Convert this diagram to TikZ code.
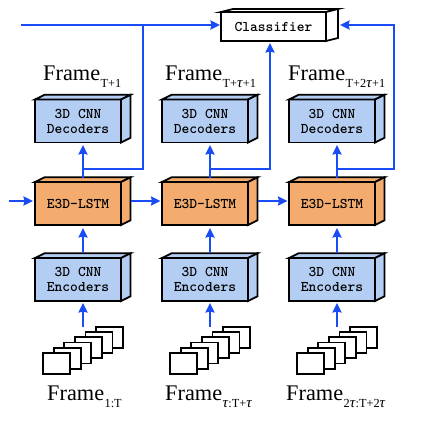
\documentclass[tikz,border=0pt]{standalone}
\usepackage{fontspec}
\setmainfont{Liberation Serif}
\usetikzlibrary{arrows.meta,calc}
\definecolor{flow}{HTML}{1A4CF5}
\definecolor{cnnblue}{HTML}{B4CEF3}
\definecolor{lstmorange}{HTML}{F3AC6E}
\tikzset{
  face/.style={draw=black,line width=1.8pt,line join=miter},
  boxnode/.style={face,inner sep=0pt,outer sep=0pt,minimum width=86pt,minimum height=43pt,align=center,
    font=\fontsize{14.8}{15}\selectfont\ttfamily\bfseries},
  cnn/.style={boxnode,fill=cnnblue},
  lstm/.style={boxnode,fill=lstmorange},
  clsbox/.style={boxnode,fill=white,minimum width=105pt,minimum height=29pt},
  frm/.style={face,fill=white,inner sep=0pt,outer sep=0pt,minimum width=27pt,minimum height=21pt},
  flowline/.style={draw=flow,line width=2pt},
  flowarrow/.style={flowline,-{Stealth[length=9.5pt,width=9pt,inset=1pt]}},
  lbl/.style={anchor=base west,inner sep=0pt,font=\fontsize{22.3}{24}\selectfont},
}
\newcommand{\sbs}[1]{\raisebox{-7pt}{\kern0.5pt\fontsize{12.3}{12}\selectfont #1}}
\newcommand{\tauit}{{\fontsize{15}{12}\selectfont\textit{τ}}}
% depth faces behind a named front node: #1 name, #2 colour
\newcommand{\depthfaces}[2]{%
  \draw[face,fill=#2] (#1.north west) -- ++(9.5,-4.7) -- ($(#1.north east)+(9.5,-4.7)$) -- (#1.north east) -- cycle;
  \draw[face,fill=#2] (#1.north east) -- ++(9.5,-4.7) -- ($(#1.south east)+(9.5,-4.7)$) -- (#1.south east) -- cycle;
}
\newcommand{\framestack}[2]{% #1 prefix, #2 x of first frame centre
  \foreach \i/\dx/\dy in {6/53/26.2,5/42.4/21,4/31.8/15.7,3/21.2/10.5,2/10.6/5.2,1/0/0}{
    \node[frm] (#1\i) at ($(#2,363.5)+(\dx,-\dy)$) {};
  }
}
\begin{document}
\begin{tikzpicture}[x=1pt,y=1pt]
\useasboundingbox (0,0) rectangle (436,424);
\begin{scope}[shift={(0,424)},y=-1pt]
% columns
\node[cnn] (d1) at (78,121) {3D CNN\\Decoders};  \depthfaces{d1}{cnnblue}
\node[cnn] (d2) at (205,121) {3D CNN\\Decoders}; \depthfaces{d2}{cnnblue}
\node[cnn] (d3) at (332,121) {3D CNN\\Decoders}; \depthfaces{d3}{cnnblue}
\node[lstm] (l1) at (78,203.5) {E3D-LSTM};  \depthfaces{l1}{lstmorange}
\node[lstm] (l2) at (205,203.5) {E3D-LSTM}; \depthfaces{l2}{lstmorange}
\node[lstm] (l3) at (332,203.5) {E3D-LSTM}; \depthfaces{l3}{lstmorange}
\node[cnn] (e1) at (78,279.5) {3D CNN\\Encoders};  \depthfaces{e1}{cnnblue}
\node[cnn] (e2) at (205,279.5) {3D CNN\\Encoders}; \depthfaces{e2}{cnnblue}
\node[cnn] (e3) at (332,279.5) {3D CNN\\Encoders}; \depthfaces{e3}{cnnblue}
\node[clsbox] (cl) at (273.5,26.5) {Classifier};
\draw[face,fill=white] (cl.north west) -- ++(12,-3) -- ($(cl.north east)+(12,-3)$) -- (cl.north east) -- cycle;
\draw[face,fill=white] (cl.north east) -- ++(12,-3) -- ($(cl.south east)+(12,-3)$) -- (cl.south east) -- cycle;
% frame stacks
\framestack{fa}{56.5}
\framestack{fb}{183.5}
\framestack{fc}{310.5}
% labels
\node[lbl] (t1) at (43,81) {Frame\sbs{T+1}};
\node[lbl] (t2) at (165,81) {Frame\sbs{T+\tauit+1}};
\node[lbl] (t3) at (288,81) {Frame\sbs{T+2\tauit+1}};
\node[lbl] (b1) at (47,400) {Frame\sbs{1:T}};
\node[lbl] (b2) at (165,400) {Frame\sbs{\tauit:T+\tauit}};
\node[lbl] (b3) at (286,400) {Frame\sbs{2\tauit:T+2\tauit}};
% free ends
\coordinate (topstart) at (21,25);
\coordinate (instart) at (9,201);
\coordinate (turn3) at (394.3,25);
% vertical flow
\foreach \c/\f in {1/fa,2/fb,3/fc}{
  \draw[flowarrow,shorten >=2pt] ($(\f6.north west)+(-13,0)$) -- ($(e\c.south)+(5,0)$);
  \draw[flowarrow,shorten >=3pt] ($(e\c.north)+(5,-5)$) -- ($(l\c.south)+(5,0)$);
  \draw[flowarrow,shorten >=2.5pt] ($(l\c.north)+(5,-4.5)$) -- ($(d\c.south)+(5,0)$);
}
% recurrent flow
\draw[flowarrow,shorten >=2pt] (instart) -- ($(l1.west)+(0,-2.5)$);
\draw[flowarrow,shorten >=1.5pt] ($(l1.east)+(9.5,-2.5)$) -- ($(l2.west)+(0,-2.5)$);
\draw[flowarrow,shorten >=1.5pt] ($(l2.east)+(9.5,-2.5)$) -- ($(l3.west)+(0,-2.5)$);
% to classifier
\draw[flowarrow,shorten >=1pt] (topstart) -- ($(cl.west)+(0,-1.5)$);
\draw[flowline] ($(l1.north)+(5,-13.3)$) -| (143,25);
\draw[flowarrow,shorten >=2pt] ($(l2.north)+(5,-13.3)$) -| ([xshift=-3.5pt]cl.south);
\draw[flowarrow,shorten >=1pt] ($(l3.north)+(5,-13.3)$) -| (turn3) -- ($(cl.east)+(13,-1.5)$);
\end{scope}
\end{tikzpicture}
\end{document}
